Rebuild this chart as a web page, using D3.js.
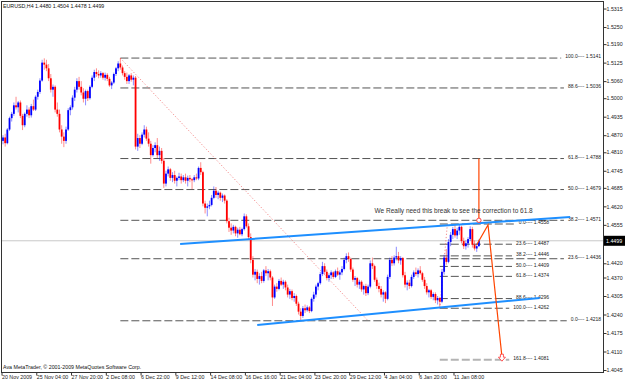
<!DOCTYPE html>
<html>
<head>
<meta charset="utf-8">
<script src="https://cdn.jsdelivr.net/npm/d3@7"></script>
<style>
  body { margin: 0; background: #fff; }
  svg { display: block; font-family: "Liberation Sans", Arial, sans-serif; }
</style>
</head>
<body>
<svg id="chart" width="625" height="381"></svg>
<script>
// EURUSD H4 bars, [open, high, low, close]
const bars = [
  [1.4850,1.4870,1.4838,1.4862],[1.4862,1.4875,1.4830,1.4842],[1.4842,1.4895,1.4838,1.4890],[1.4890,1.4935,1.4885,1.4930],
  [1.4930,1.4952,1.4918,1.4945],[1.4945,1.4985,1.4938,1.4975],[1.4975,1.5005,1.4960,1.4968],[1.4968,1.4990,1.4950,1.4985],
  [1.4985,1.4992,1.4930,1.4938],[1.4938,1.4945,1.4888,1.4905],[1.4905,1.4950,1.4898,1.4945],[1.4945,1.4975,1.4935,1.4960],
  [1.4960,1.4968,1.4930,1.4940],[1.4940,1.4980,1.4932,1.4972],[1.4972,1.4995,1.4955,1.4960],[1.4960,1.5010,1.4955,1.5005],
  [1.5005,1.5030,1.4995,1.5022],[1.5022,1.5070,1.5015,1.5062],[1.5062,1.5135,1.5058,1.5125],[1.5125,1.5140,1.5100,1.5118],
  [1.5118,1.5135,1.5095,1.5105],[1.5105,1.5120,1.5060,1.5070],[1.5070,1.5085,1.5020,1.5030],[1.5030,1.5048,1.5005,1.5040],
  [1.5040,1.5045,1.4950,1.4960],[1.4960,1.4985,1.4935,1.4945],[1.4945,1.4960,1.4880,1.4890],[1.4890,1.4905,1.4840,1.4865],
  [1.4865,1.4880,1.4828,1.4850],[1.4850,1.4900,1.4840,1.4890],[1.4890,1.4965,1.4885,1.4958],[1.4958,1.4975,1.4940,1.4968],
  [1.4968,1.5010,1.4960,1.5002],[1.5002,1.5040,1.4990,1.5030],[1.5030,1.5070,1.5020,1.5060],[1.5060,1.5075,1.5030,1.5040],
  [1.5040,1.5060,1.5010,1.5020],[1.5020,1.5035,1.4985,1.4998],[1.4998,1.5030,1.4975,1.5025],[1.5025,1.5030,1.4990,1.5000],
  [1.5000,1.5045,1.4995,1.5040],[1.5040,1.5080,1.5035,1.5072],[1.5072,1.5100,1.5060,1.5092],[1.5092,1.5105,1.5075,1.5085],
  [1.5085,1.5098,1.5070,1.5080],[1.5080,1.5095,1.5072,1.5088],[1.5088,1.5092,1.5065,1.5072],[1.5072,1.5090,1.5062,1.5082],
  [1.5082,1.5088,1.5060,1.5068],[1.5068,1.5075,1.5040,1.5045],[1.5045,1.5060,1.5032,1.5055],[1.5055,1.5090,1.5050,1.5085],
  [1.5085,1.5110,1.5078,1.5105],[1.5105,1.5130,1.5095,1.5122],[1.5122,1.5141,1.5100,1.5108],[1.5108,1.5115,1.5080,1.5088],
  [1.5088,1.5095,1.5065,1.5075],[1.5075,1.5090,1.5050,1.5060],[1.5060,1.5085,1.5050,1.5080],[1.5080,1.5088,1.5058,1.5065],
  [1.5065,1.5080,1.5045,1.5072],[1.5072,1.5078,1.4820,1.4830],[1.4830,1.4875,1.4815,1.4860],[1.4860,1.4870,1.4825,1.4840],
  [1.4840,1.4880,1.4835,1.4872],[1.4872,1.4905,1.4862,1.4890],[1.4890,1.4900,1.4850,1.4858],[1.4858,1.4880,1.4830,1.4840],
  [1.4840,1.4850,1.4770,1.4800],[1.4800,1.4835,1.4795,1.4825],[1.4825,1.4845,1.4810,1.4835],[1.4835,1.4860,1.4790,1.4800],
  [1.4800,1.4830,1.4780,1.4815],[1.4815,1.4825,1.4770,1.4780],[1.4780,1.4790,1.4685,1.4700],[1.4700,1.4745,1.4690,1.4735],
  [1.4735,1.4760,1.4725,1.4750],[1.4750,1.4755,1.4710,1.4720],[1.4720,1.4740,1.4705,1.4730],[1.4730,1.4745,1.4700,1.4710],
  [1.4710,1.4725,1.4690,1.4720],[1.4720,1.4738,1.4712,1.4725],[1.4725,1.4735,1.4700,1.4712],[1.4712,1.4730,1.4705,1.4722],
  [1.4722,1.4735,1.4700,1.4710],[1.4710,1.4728,1.4690,1.4720],[1.4720,1.4730,1.4705,1.4715],[1.4715,1.4720,1.4680,1.4712],
  [1.4712,1.4730,1.4705,1.4722],[1.4722,1.4735,1.4712,1.4718],[1.4718,1.4760,1.4712,1.4755],[1.4755,1.4775,1.4730,1.4740],
  [1.4740,1.4745,1.4620,1.4630],[1.4630,1.4640,1.4595,1.4615],[1.4615,1.4630,1.4585,1.4620],[1.4620,1.4640,1.4610,1.4625],
  [1.4625,1.4660,1.4620,1.4650],[1.4650,1.4690,1.4645,1.4675],[1.4675,1.4688,1.4650,1.4660],[1.4660,1.4675,1.4645,1.4668],
  [1.4668,1.4672,1.4640,1.4650],[1.4650,1.4665,1.4635,1.4658],[1.4658,1.4662,1.4630,1.4640],[1.4640,1.4645,1.4560,1.4568],
  [1.4568,1.4580,1.4530,1.4545],[1.4545,1.4560,1.4520,1.4535],[1.4535,1.4555,1.4525,1.4548],[1.4548,1.4552,1.4515,1.4525],
  [1.4525,1.4545,1.4510,1.4538],[1.4538,1.4548,1.4518,1.4522],[1.4522,1.4545,1.4515,1.4540],[1.4540,1.4595,1.4535,1.4585],
  [1.4585,1.4592,1.4545,1.4550],[1.4550,1.4560,1.4505,1.4512],[1.4512,1.4525,1.4420,1.4432],[1.4432,1.4445,1.4370,1.4380],
  [1.4380,1.4400,1.4360,1.4390],[1.4390,1.4398,1.4350,1.4365],[1.4365,1.4385,1.4345,1.4375],[1.4375,1.4390,1.4350,1.4358],
  [1.4358,1.4400,1.4352,1.4395],[1.4395,1.4410,1.4375,1.4385],[1.4385,1.4400,1.4360,1.4392],[1.4392,1.4398,1.4360,1.4370],
  [1.4370,1.4375,1.4270,1.4300],[1.4300,1.4345,1.4295,1.4338],[1.4338,1.4350,1.4320,1.4330],[1.4330,1.4365,1.4325,1.4358],
  [1.4358,1.4370,1.4340,1.4345],[1.4345,1.4362,1.4330,1.4355],[1.4355,1.4360,1.4325,1.4335],[1.4335,1.4345,1.4300,1.4310],
  [1.4310,1.4330,1.4295,1.4322],[1.4322,1.4328,1.4290,1.4298],[1.4298,1.4315,1.4285,1.4305],[1.4305,1.4310,1.4270,1.4278],
  [1.4278,1.4285,1.4240,1.4250],[1.4250,1.4262,1.4218,1.4235],[1.4235,1.4270,1.4228,1.4262],[1.4262,1.4275,1.4245,1.4255],
  [1.4255,1.4272,1.4250,1.4265],[1.4265,1.4270,1.4245,1.4252],[1.4252,1.4300,1.4248,1.4295],[1.4295,1.4320,1.4285,1.4310],
  [1.4310,1.4345,1.4300,1.4338],[1.4338,1.4355,1.4325,1.4350],[1.4350,1.4390,1.4345,1.4382],[1.4382,1.4425,1.4375,1.4410],
  [1.4410,1.4420,1.4380,1.4390],[1.4390,1.4398,1.4360,1.4368],[1.4368,1.4385,1.4355,1.4378],[1.4378,1.4395,1.4365,1.4388],
  [1.4388,1.4392,1.4365,1.4372],[1.4372,1.4398,1.4368,1.4392],[1.4392,1.4405,1.4375,1.4380],[1.4380,1.4395,1.4362,1.4388],
  [1.4388,1.4410,1.4378,1.4400],[1.4400,1.4440,1.4395,1.4432],[1.4432,1.4455,1.4420,1.4445],[1.4445,1.4458,1.4425,1.4435],
  [1.4435,1.4440,1.4390,1.4398],[1.4398,1.4405,1.4355,1.4362],[1.4362,1.4375,1.4340,1.4368],[1.4368,1.4372,1.4335,1.4345],
  [1.4345,1.4362,1.4330,1.4355],[1.4355,1.4360,1.4320,1.4328],[1.4328,1.4345,1.4310,1.4340],[1.4340,1.4348,1.4305,1.4315],
  [1.4315,1.4345,1.4308,1.4338],[1.4338,1.4430,1.4332,1.4420],[1.4420,1.4440,1.4400,1.4410],[1.4410,1.4415,1.4355,1.4362],
  [1.4362,1.4370,1.4330,1.4340],[1.4340,1.4352,1.4318,1.4330],[1.4330,1.4340,1.4300,1.4310],[1.4310,1.4325,1.4285,1.4318],
  [1.4318,1.4322,1.4280,1.4295],[1.4295,1.4380,1.4290,1.4372],[1.4372,1.4440,1.4365,1.4432],[1.4432,1.4445,1.4410,1.4420],
  [1.4420,1.4448,1.4412,1.4440],[1.4440,1.4478,1.4430,1.4445],[1.4445,1.4460,1.4420,1.4430],[1.4430,1.4445,1.4415,1.4438],
  [1.4438,1.4442,1.4370,1.4378],[1.4378,1.4390,1.4335,1.4345],[1.4345,1.4360,1.4325,1.4352],[1.4352,1.4362,1.4330,1.4340],
  [1.4340,1.4380,1.4335,1.4372],[1.4372,1.4395,1.4365,1.4388],[1.4388,1.4405,1.4375,1.4382],[1.4382,1.4402,1.4370,1.4395],
  [1.4395,1.4410,1.4380,1.4385],[1.4385,1.4390,1.4355,1.4362],[1.4362,1.4372,1.4330,1.4340],[1.4340,1.4350,1.4310,1.4318],
  [1.4318,1.4330,1.4300,1.4325],[1.4325,1.4330,1.4295,1.4302],[1.4302,1.4318,1.4290,1.4312],[1.4312,1.4318,1.4280,1.4290],
  [1.4290,1.4305,1.4275,1.4298],[1.4298,1.4302,1.4262,1.4285],[1.4285,1.4400,1.4280,1.4390],[1.4390,1.4450,1.4380,1.4440],
  [1.4440,1.4470,1.4415,1.4425],[1.4425,1.4505,1.4420,1.4495],[1.4495,1.4530,1.4480,1.4520],[1.4520,1.4548,1.4505,1.4540],
  [1.4540,1.4558,1.4510,1.4518],[1.4518,1.4545,1.4505,1.4535],[1.4535,1.4555,1.4520,1.4548],[1.4548,1.4552,1.4490,1.4498],
  [1.4498,1.4510,1.4470,1.4480],[1.4480,1.4500,1.4468,1.4490],[1.4490,1.4512,1.4475,1.4505],[1.4505,1.4550,1.4498,1.4540],
  [1.4540,1.4548,1.4475,1.4485],[1.4485,1.4500,1.4465,1.4472],[1.4472,1.4490,1.4460,1.4480],[1.4480,1.4504,1.4478,1.4499]
];

const timeTickBars = [0, 16, 32, 48, 64, 80, 96, 112, 128, 144, 160, 176, 192, 208];
const timeLabels = ["20 Nov 2009", "25 Nov 04:00", "27 Nov 20:00", "2 Dec 08:00", "6 Dec 22:00", "9 Dec 12:00",
  "14 Dec 08:00", "16 Dec 16:00", "21 Dec 04:00", "23 Dec 20:00", "29 Dec 12:00", "4 Jan 04:00", "6 Jan 20:00", "11 Jan 08:00"];
// 1.4490 sits under the last-price box, so it is left out
const priceTicks = [1.5315, 1.5250, 1.5190, 1.5125, 1.5060, 1.5000, 1.4935, 1.4870, 1.4810, 1.4745, 1.4685,
  1.4620, 1.4555, 1.4420, 1.4370, 1.4305, 1.4240, 1.4175, 1.4110, 1.4045];

const bigFibLevels = ["100.0", "88.6", "61.8", "50.0", "38.2", "23.6", "0.0"];
const bigFibPrices = [1.5141, 1.5036, 1.4788, 1.4679, 1.4571, 1.4436, 1.4218];
const smallFibLevels = ["0.0", "23.6", "38.2", "50.0", "61.8", "88.6", "100.0", "161.8"];
const smallFibPrices = [1.4558, 1.4487, 1.4446, 1.4409, 1.4374, 1.4296, 1.4262, 1.4081];

// drawn objects, in [bar, price]
const bigFibSpan = [54, 275.2];
const smallFibSpan = [201, 251.3];
const bigFibTrend = [[54, 1.5141], [168, 1.4218]];
const smallFibTrend = [[201, 1.4262], [204.5, 1.4558]];
const upperChannel = [[81.5, 1.4488], [261, 1.4583]];
const lowerChannel = [[117, 1.4203], [247, 1.4298]];
const orangeVertical = [[219, 1.4788], [219, 1.4571]];
const orangePath = [[218, 1.4485], [223.2, 1.4555], [229.6, 1.4092]];
const arrowAt = [229.6, 1.4090];
const notePos = [171, 1.4597];
const noteText = "We Really need this break to see the correction to 61.8";
const lastPrice = 1.4499;

const svg = d3.select("#chart");
const plot = { left: 1.5, top: 1.5, right: 603.5, bottom: 372.5 };
const fs = 5.3;

const x = d3.scaleLinear().domain([0, 219]).range([3, 478.9]);
const y = d3.scaleLinear().domain([1.4038, 1.5338]).range([372, 2]);
const fmt = d3.format(".4f");
const line = d3.line().x(d => x(d[0])).y(d => y(d[1]));

svg.append("rect").attr("width", 625).attr("height", 381).attr("fill", "#fff");

svg.append("clipPath").attr("id", "clip")
  .append("rect")
  .attr("x", plot.left).attr("y", plot.top)
  .attr("width", plot.right - plot.left).attr("height", plot.bottom - plot.top);

const g = svg.append("g").attr("clip-path", "url(#clip)");

// bid line
g.append("line")
  .attr("x1", plot.left).attr("x2", plot.right)
  .attr("y1", y(lastPrice)).attr("y2", y(lastPrice))
  .attr("stroke", "#c8c8c8").attr("stroke-width", 1);

// fibo levels
function fibo(levels, prices, span, labelX, styleFor) {
  const grp = g.append("g");
  levels.forEach((lv, i) => {
    const yy = y(prices[i]);
    const st = styleFor(lv);
    const t = grp.append("text")
      .attr("x", labelX).attr("y", yy + 0.3)
      .attr("text-anchor", "end")
      .attr("font-size", 5)
      .attr("fill", "#222")
      .text(lv + "---- " + fmt(prices[i]));
    const w = t.node().getComputedTextLength();
    grp.insert("line", "text")
      .attr("x1", x(span[0])).attr("x2", labelX - w - 4)
      .attr("y1", yy).attr("y2", yy)
      .attr("stroke", st.color).attr("stroke-width", st.width)
      .attr("stroke-dasharray", "8,3");
  });
}
fibo(bigFibLevels, bigFibPrices, bigFibSpan, x(bigFibSpan[1]), () => ({ color: "#555", width: 1 }));
fibo(smallFibLevels, smallFibPrices, smallFibSpan, x(smallFibSpan[1]),
  lv => lv === "161.8" ? { color: "#b4b4b4", width: 2 } : { color: "#555", width: 1 });

// fibo anchor lines
[bigFibTrend, smallFibTrend].forEach(pts => {
  g.append("path").attr("d", line(pts))
    .attr("fill", "none").attr("stroke", "#f07070")
    .attr("stroke-width", 0.8).attr("stroke-dasharray", "1.2,2");
});

// candles
const col = d => d[3] >= d[0] ? "#0000ff" : "#ff0000";
g.selectAll(".wick").data(bars).join("line")
  .attr("class", "wick")
  .attr("x1", (d, i) => x(i)).attr("x2", (d, i) => x(i))
  .attr("y1", d => y(d[1])).attr("y2", d => y(d[2]))
  .attr("stroke", col).attr("stroke-width", 0.9).attr("stroke-opacity", 0.5);
g.selectAll(".body").data(bars).join("rect")
  .attr("class", "body")
  .attr("x", (d, i) => x(i) - 0.9).attr("width", 1.8)
  .attr("y", d => y(Math.max(d[0], d[3])))
  .attr("height", d => Math.max(1, Math.abs(y(d[0]) - y(d[3]))))
  .attr("fill", col);

// channel
[upperChannel, lowerChannel].forEach(pts => {
  g.append("path").attr("d", line(pts))
    .attr("fill", "none").attr("stroke", "#1e8fff").attr("stroke-width", 2);
});

// projection
g.append("path").attr("d", line(orangeVertical))
  .attr("fill", "none").attr("stroke", "#ff4500").attr("stroke-width", 1.2);
g.append("circle")
  .attr("cx", x(orangeVertical[1][0])).attr("cy", y(orangeVertical[1][1]))
  .attr("r", 2.2).attr("fill", "#fff").attr("stroke", "#ff3030").attr("stroke-width", 0.9);
g.append("path").attr("d", line(orangePath))
  .attr("fill", "none").attr("stroke", "#ff4500").attr("stroke-width", 1.2);

const ax = x(arrowAt[0]), ay = y(arrowAt[1]) - 3;
g.append("path")
  .attr("d", `M${ax - 1.5},${ay} h3 v3 h2 l-3.5,4 l-3.5,-4 h2 z`)
  .attr("fill", "#fff").attr("stroke", "#ff3030").attr("stroke-width", 0.8);

g.append("text")
  .attr("x", x(notePos[0])).attr("y", y(notePos[1]))
  .attr("font-size", 6.5).attr("fill", "#333")
  .text(noteText);

// frame
svg.append("rect")
  .attr("x", plot.left).attr("y", plot.top)
  .attr("width", plot.right - plot.left).attr("height", plot.bottom - plot.top)
  .attr("fill", "none").attr("stroke", "#333").attr("stroke-width", 1);

// price axis
const yAxis = svg.append("g")
  .attr("transform", `translate(${plot.right},0)`)
  .call(d3.axisRight(y).tickValues(priceTicks).tickSize(3).tickPadding(0).tickFormat(fmt));
yAxis.select(".domain").remove();
yAxis.selectAll("text").attr("font-size", fs).attr("fill", "#222").attr("font-family", null);
yAxis.selectAll("line").attr("stroke", "#333");

// time axis
const xAxis = svg.append("g")
  .attr("transform", `translate(0,${plot.bottom})`)
  .call(d3.axisBottom(x).tickValues(timeTickBars).tickSize(3).tickPadding(0)
    .tickFormat((d, i) => timeLabels[i]));
xAxis.select(".domain").remove();
xAxis.selectAll(".tick").attr("transform", d => `translate(${x(d) - 1},0)`);
xAxis.selectAll("text").attr("font-size", fs).attr("fill", "#222")
  .attr("text-anchor", "start").attr("font-family", null);
xAxis.selectAll("line").attr("stroke", "#333");

// last price box
svg.append("rect")
  .attr("x", plot.right + 0.5).attr("y", y(lastPrice) - 5)
  .attr("width", 21).attr("height", 10).attr("fill", "#000");
svg.append("text")
  .attr("x", plot.right + 2.5).attr("y", y(lastPrice)).attr("dy", "0.35em")
  .attr("font-size", fs).attr("fill", "#fff")
  .text(fmt(lastPrice));

// header and footer
const last = bars[bars.length - 1];
svg.append("text")
  .attr("x", 3).attr("y", 8.3)
  .attr("font-size", fs).attr("fill", "#111")
  .text("EURUSD,H4  " + last.map(fmt).join(" "));
svg.append("text")
  .attr("x", 3).attr("y", 368.6)
  .attr("font-size", fs).attr("fill", "#111")
  .text("Ava MetaTrader, \u00a9 2001-2009 MetaQuotes Software Corp.");
</script>
</body>
</html>
